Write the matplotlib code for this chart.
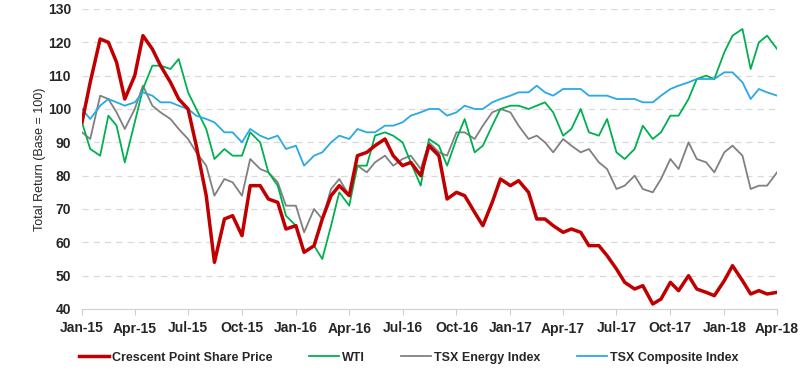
import pandas as pd
import matplotlib.pyplot as plt
import matplotlib.dates as mdates

plt.rcParams["font.family"] = ["Liberation Sans", "DejaVu Sans"]

# semi-monthly observations, Jan-15 .. Apr-18
dates = pd.date_range("2015-01-01", "2018-04-01", freq="SMS")

crescent = [96, 108, 121, 120, 114, 103, 110, 122, 118, 113,
            108, 103, 100, 89, 74, 54, 67, 68, 62, 77,
            77, 73, 72, 64, 65, 57, 59, 67, 74, 77,
            74, 86, 87, 89, 91, 86, 83, 84, 80, 89,
            86, 73, 75, 74, 69, 65, 72, 79, 77, 78.5,
            75, 67, 67, 65, 63, 64, 63, 59, 59, 56,
            52, 48, 46, 47, 41.5, 43, 48, 45.5, 50, 46,
            45, 44, 48.5, 53, 48.5, 44.5, 45.5, 44.5, 45]
wti = [96, 88, 86, 98, 95, 84, 96, 106, 113, 113,
       112, 115, 105, 100, 94, 85, 88, 86, 86, 93,
       90, 81, 77, 68, 65, 57, 59, 55, 65, 75,
       71, 83, 83, 92, 93, 92, 90, 84, 77, 91,
       89, 83, 91, 97, 87, 89, 95, 100, 101, 101,
       100, 101, 102, 99, 92, 94, 100, 93, 92, 97,
       87, 85, 88, 95, 91, 93, 98, 98, 103, 109,
       110, 109, 117, 122, 124, 112, 120, 122, 118]
tsx_energy = [93, 91, 104, 103, 99, 94, 100, 107, 101, 99,
              97, 94, 91, 87, 83, 74, 79, 78, 74, 85,
              82, 81, 78, 71, 71, 63, 70, 67, 76, 79,
              74, 83, 81, 84, 86, 83, 85, 86, 82, 90,
              87, 86, 93, 93, 91, 95, 99, 100, 99, 95,
              91, 92, 90, 87, 91, 89, 87, 88, 84, 82,
              76, 77, 80, 76, 75, 79, 85, 82, 90, 85,
              84, 81, 87, 89, 86, 76, 77, 77, 81]
tsx_comp = [100, 97, 101, 103, 102, 101, 102, 105, 104, 102,
            102, 101, 100, 98, 97, 96, 93, 93, 90, 94,
            92, 91, 92, 88, 89, 83, 86, 87, 90, 92,
            91, 94, 93, 93, 95, 95, 96, 98, 99, 100,
            100, 98, 99, 101, 100, 100, 102, 103, 104, 105,
            105, 107, 105, 104, 106, 106, 106, 104, 104, 104,
            103, 103, 103, 102, 102, 104, 106, 107, 108, 109,
            109, 109, 111, 111, 108, 103, 106, 105, 104]

fig = plt.figure(figsize=(8, 3.75), dpi=100)
ax = fig.add_axes([0.1025, 0.176, 0.8688, 0.8])

ax.plot(dates, crescent, color="#C00000", lw=2.5, label="Crescent Point Share Price", zorder=5)
ax.plot(dates, wti, color="#00B050", lw=1.3, label="WTI", zorder=3)
ax.plot(dates, tsx_energy, color="#808080", lw=1.3, label="TSX Energy Index", zorder=2)
ax.plot(dates, tsx_comp, color="#29A9E6", lw=1.3, label="TSX Composite Index", zorder=4)

ax.set_ylim(40, 130)
ax.set_yticks(range(40, 131, 10))
ax.set_xlim(dates[0], dates[-1])
ticks = pd.date_range("2015-01-01", "2018-04-01", freq="QS")
ax.set_xticks(ticks)
ax.xaxis.set_major_formatter(mdates.DateFormatter("%b-%y"))

for y in range(50, 131, 10):
    ax.axhline(y, color="#d9d9d9", lw=0.9, ls=(0, (5, 4)), zorder=0)

for s in ["top", "right", "left"]:
    ax.spines[s].set_visible(False)
ax.spines["bottom"].set_color("#d0d0d0")
ax.tick_params(axis="y", length=0, labelsize=10, colors="#262626", pad=8)
ax.tick_params(axis="x", length=4, color="#d0d0d0", labelsize=10, colors="#262626", pad=5)
for lab in ax.get_xticklabels() + ax.get_yticklabels():
    lab.set_fontweight("bold")

ax.set_ylabel("Total Return (Base = 100)", fontsize=9, color="#262626", labelpad=1)

fig.legend(loc="lower center", bbox_to_anchor=(0.511, 0.0), ncol=4, frameon=False,
           prop={"weight": "bold", "size": 9}, handlelength=2.4, handletextpad=0.25,
           columnspacing=2.9, labelcolor="#262626")

plt.savefig("out.png", dpi=100)
